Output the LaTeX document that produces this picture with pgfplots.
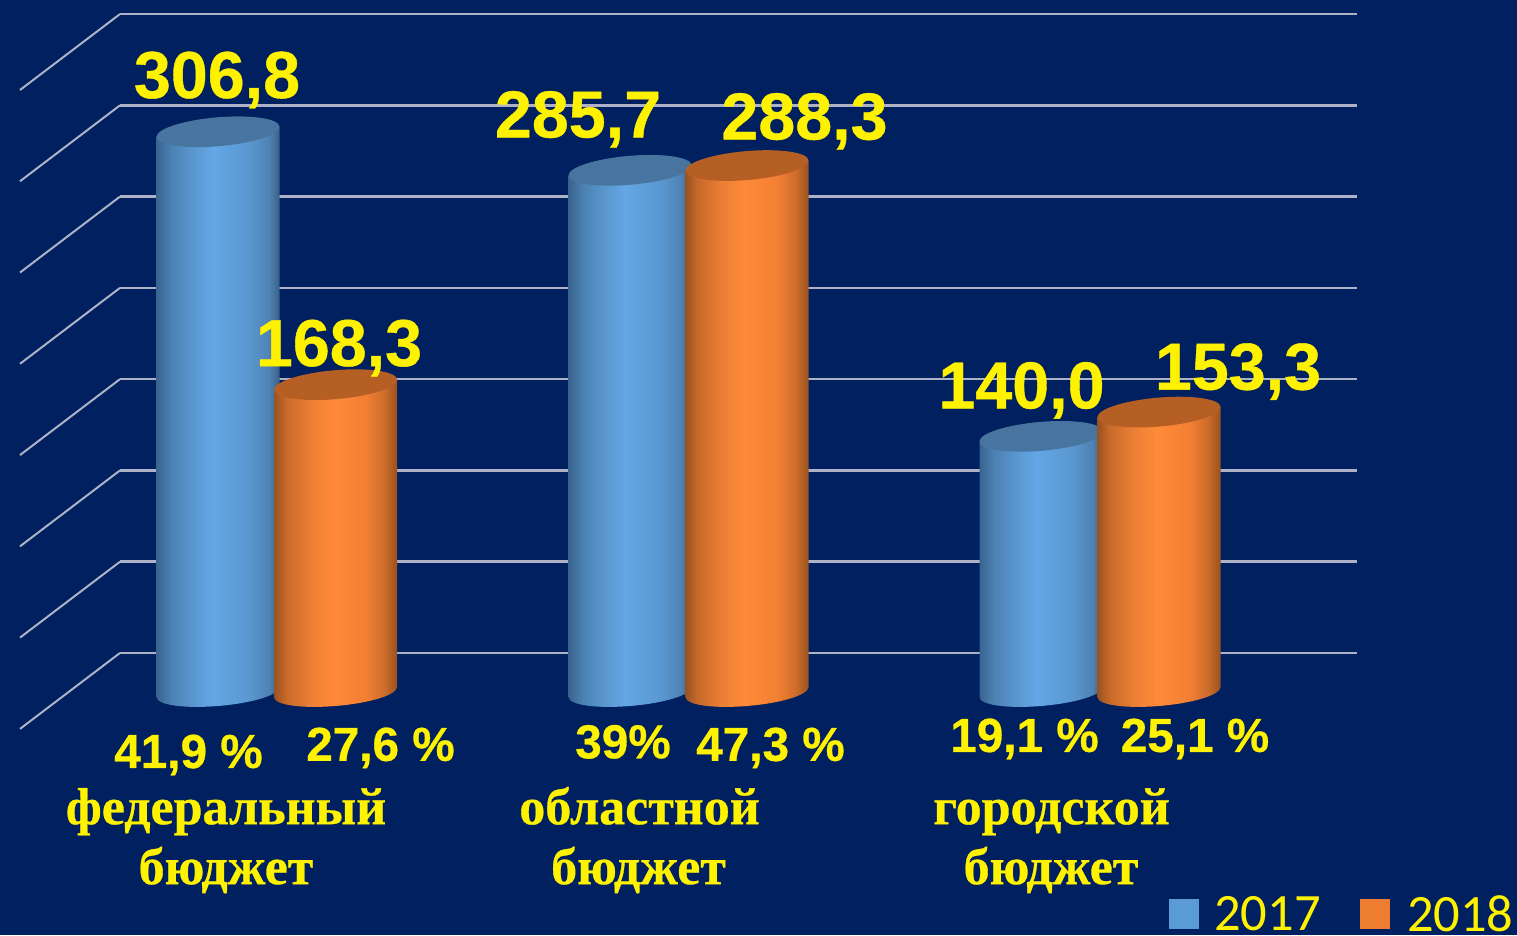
\documentclass[border=0pt]{standalone}
\usepackage{fontspec}
\setmainfont{Liberation Sans}[BoldFeatures={FakeBold=0.6}]
\newfontfamily\catfont{Liberation Serif}[BoldFeatures={FakeBold=0.6}]
\newfontfamily\legfont{Carlito}
\usepackage{pgfplots}
\pgfplotsset{compat=1.18}

\definecolor{navy}{HTML}{002060}
\definecolor{gridc}{HTML}{AEB2C6}
\definecolor{topblue}{HTML}{48759F}
\definecolor{toporange}{HTML}{B65F25}
\definecolor{leg17}{HTML}{5B9BD5}
\definecolor{leg18}{HTML}{ED7D31}
\definecolor{b0}{HTML}{3A6490}
\definecolor{b1}{HTML}{4C82B4}
\definecolor{b2}{HTML}{5A97CF}
\definecolor{b3}{HTML}{63A7E6}
\definecolor{b4}{HTML}{5A97D0}
\definecolor{b5}{HTML}{4E82B2}
\definecolor{b6}{HTML}{3A6085}
\definecolor{o0}{HTML}{9A5222}
\definecolor{o1}{HTML}{C96A2A}
\definecolor{o2}{HTML}{EC7F35}
\definecolor{o3}{HTML}{FF8A38}
\definecolor{o4}{HTML}{F27F33}
\definecolor{o5}{HTML}{CC6C2B}
\definecolor{o6}{HTML}{97521F}

\pgfdeclarehorizontalshading{shblue}{100bp}{
  color(0bp)=(b0); color(25bp)=(b0); color(31bp)=(b1); color(40bp)=(b2);
  color(48bp)=(b3); color(62.5bp)=(b4); color(71bp)=(b5); color(75bp)=(b6); color(100bp)=(b6)}
\pgfdeclarehorizontalshading{shorange}{100bp}{
  color(0bp)=(o0); color(25bp)=(o0); color(30bp)=(o1); color(40bp)=(o2);
  color(49bp)=(o3); color(62.5bp)=(o4); color(70bp)=(o5); color(75bp)=(o6); color(100bp)=(o6)}

% whole cylinder drawn from the top centre, height taken from the data value
\newcommand\drawcyl[2]{%
  \pgfmathsetmacro\cylh{\vy*1.826}%
  \pgfpathmoveto{\pgfpoint{-61.5pt}{-5pt}}%
  \pgfpathlineto{\pgfpoint{-61.5pt}{-\cylh pt-5pt}}%
  \pgfpathcurveto{\pgfpoint{-61.5pt}{-\cylh pt-13pt}}{\pgfpoint{-34pt}{-\cylh pt-14pt-2.76pt}}{\pgfpoint{0pt}{-\cylh pt-14pt}}%
  \pgfpathcurveto{\pgfpoint{34pt}{-\cylh pt-14pt+2.76pt}}{\pgfpoint{61.5pt}{-\cylh pt-3pt}}{\pgfpoint{61.5pt}{-\cylh pt+5pt}}%
  \pgfpathlineto{\pgfpoint{61.5pt}{5pt}}%
  \pgfpathclose
  \pgfshadepath{#1}{0}%
  \pgfusepath{discard}%
  \pgfpathellipse{\pgfpointorigin}{\pgfpoint{61.5pt}{5pt}}{\pgfpoint{0pt}{14.5pt}}%
  \pgfsetfillcolor{#2}%
  \pgfusepath{fill}}
\pgfdeclareplotmark{cylblue}{\drawcyl{shblue}{topblue}}
\pgfdeclareplotmark{cylorange}{\drawcyl{shorange}{toporange}}

\pgfplotsset{px/.style={
  scale only axis, width=1517pt, height=935pt, at={(0pt,0pt)}, anchor=south west,
  axis lines=none, clip=false, xmin=0, xmax=1517}}
\tikzset{
  val/.style={anchor=base, text=yellow, font=\fontsize{66.4}{70}\selectfont\bfseries},
  pct/.style={anchor=base, text=yellow, font=\fontsize{47.7}{50}\selectfont\bfseries},
  cat/.style={anchor=base, text=yellow, font=\catfont\fontsize{52}{54}\selectfont\bfseries}}

\begin{document}
\begin{tikzpicture}
\path[fill=navy, use as bounding box] (0pt,0pt) rectangle (1517pt,935pt);

% back wall: y=0 lies at pixel row 653
\begin{axis}[px, ymin=-154.5, ymax=357.7]
\pgfplotsinvokeforeach{0,50,100,150,200,250,300,350}{
  \addplot[gridc, line width=2.6pt, forget plot] coordinates {(120,#1) (1357,#1)};
}
\addplot[gridc, line width=2pt, forget plot] coordinates {(20,-41.6) (120,0)};
\addplot[gridc, line width=2pt, forget plot] coordinates {(20,8.4) (120,50)};
\addplot[gridc, line width=2pt, forget plot] coordinates {(20,58.4) (120,100)};
\addplot[gridc, line width=2pt, forget plot] coordinates {(20,108.4) (120,150)};
\addplot[gridc, line width=2pt, forget plot] coordinates {(20,158.4) (120,200)};
\addplot[gridc, line width=2pt, forget plot] coordinates {(20,208.4) (120,250)};
\addplot[gridc, line width=2pt, forget plot] coordinates {(20,258.4) (120,300)};
\addplot[gridc, line width=2pt, forget plot] coordinates {(20,308.4) (120,350)};
\end{axis}

% cylinders stand on the front plane: y=0 lies at pixel row 692
\begin{axis}[px, ymin=-133.08, ymax=378.97]
\addplot[scatter, only marks, mark=cylblue, forget plot,
  visualization depends on={rawy \as \vy}]
  coordinates {(218,306.8) (630,285.7) (1041,140.0)};
\addplot[scatter, only marks, mark=cylorange, forget plot,
  visualization depends on={rawy \as \vy}]
  coordinates {(335.5,168.3) (747,288.3) (1159,153.3)};
\end{axis}

% texts and legend on top of the cylinders, same scale as above
\begin{axis}[px, ymin=-133.08, ymax=378.97,
  legend style={at={(1515.5pt,0.5pt)}, anchor=south east, draw=none, fill=none,
    text=yellow, font=\legfont\fontsize{52.5}{55}\selectfont, inner sep=0pt, outer sep=0pt,
    /tikz/column 1/.style={column sep=13.5pt},
    /tikz/column 2/.style={column sep=37.5pt},
    /tikz/column 3/.style={column sep=15.5pt}},
  legend columns=2,
  legend cell align=left,
  legend image code/.code={\fill[#1] (0pt,-14.5pt) rectangle (29pt,14.5pt);},
]
\addlegendimage{leg17, fill=leg17}
\addlegendentry{2017}
\addlegendimage{leg18, fill=leg18}
\addlegendentry{2018}

\node[val] at (axis cs:217,325.3) {306,8};
\node[val] at (axis cs:339,178.5) {168,3};
\node[val] at (axis cs:578,303.7) {285,7};
\node[val] at (axis cs:804.5,302.6) {288,3};
\node[val] at (axis cs:1021.5,155.3) {140,0};
\node[val] at (axis cs:1238,165.6) {153,3};

\node[pct] at (axis cs:188.5,-41.6) {41,9 \%};
\node[pct] at (axis cs:380.5,-37.7) {27,6 \%};
\node[pct] at (axis cs:623,-36.3) {39\%};
\node[pct] at (axis cs:770.5,-37.7) {47,3 \%};
\node[pct] at (axis cs:1024.5,-32.8) {19,1 \%};
\node[pct] at (axis cs:1195,-32.8) {25,1 \%};

\node[cat] at (axis cs:226,-72.4) {федеральный};
\node[cat] at (axis cs:226,-105.2) {бюджет};
\node[cat] at (axis cs:639.5,-72.4) {областной};
\node[cat] at (axis cs:638.5,-105.2) {бюджет};
\node[cat] at (axis cs:1051.5,-72.4) {городской};
\node[cat] at (axis cs:1051,-105.2) {бюджет};
\end{axis}
\end{tikzpicture}
\end{document}
